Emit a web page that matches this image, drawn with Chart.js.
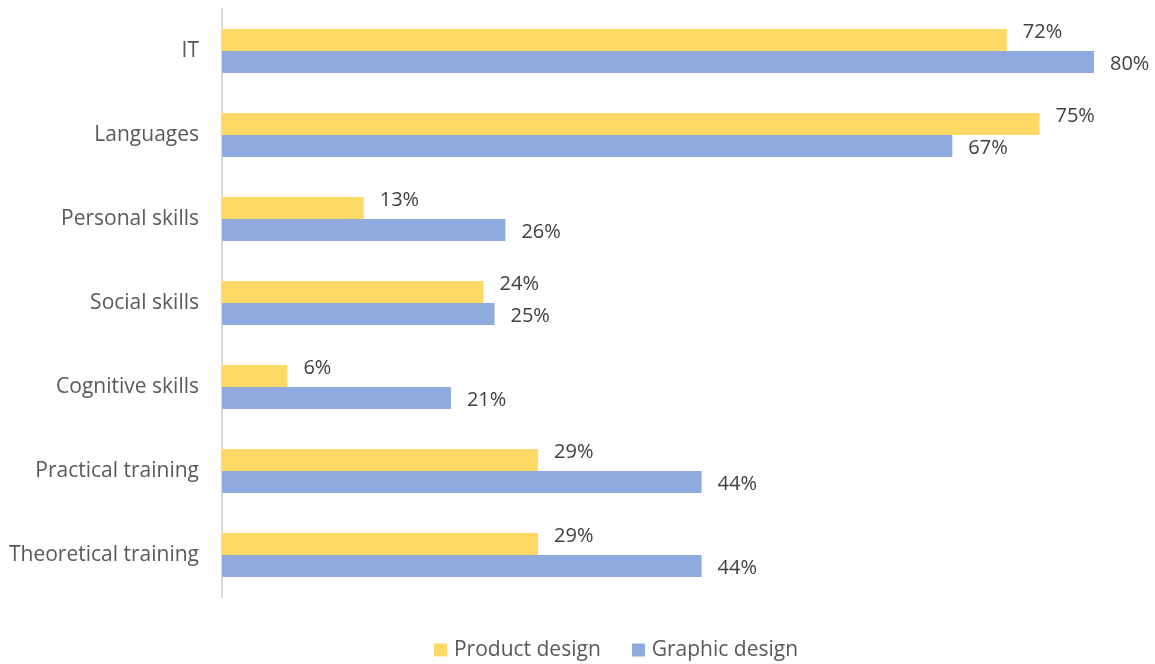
<!DOCTYPE html>
<html>
<head>
<meta charset="utf-8">
<script src="https://cdn.jsdelivr.net/npm/chart.js@4/dist/chart.umd.min.js"></script>
<style>
  html, body { margin: 0; padding: 0; background: #ffffff; }
  #wrap { width: 1155px; height: 664px; position: relative; }
</style>
</head>
<body>
<div id="wrap"><canvas id="c" width="1155" height="664"></canvas></div>
<script>
const categories = ["IT", "Languages", "Personal skills", "Social skills", "Cognitive skills", "Practical training", "Theoretical training"];
const productDesign = [72, 75, 13, 24, 6, 29, 29];
const graphicDesign = [80, 67, 26, 25, 21, 44, 44];
const seriesNames = ["Product design", "Graphic design"];
const seriesColors = ["#FFD966", "#8FAADC"];

const FONT = "'Open Sans', 'Noto Sans', sans-serif";

const valueLabels = {
  id: 'valueLabels',
  afterDatasetsDraw(chart) {
    const ctx = chart.ctx;
    ctx.save();
    ctx.font = "20px " + FONT;
    ctx.fillStyle = "#404040";
    ctx.textAlign = "left";
    ctx.textBaseline = "middle";
    chart.data.datasets.forEach((ds, di) => {
      const meta = chart.getDatasetMeta(di);
      const dy = di === 0 ? -8 : 2;
      meta.data.forEach((bar, i) => {
        ctx.fillText(ds.data[i] + "%", bar.x + 16, bar.y + dy);
      });
    });
    ctx.restore();
  }
};

// Legend drawn below the plot, Excel-style (box, small gap, label)
const bottomLegend = {
  id: 'bottomLegend',
  afterDraw(chart) {
    const ctx = chart.ctx;
    ctx.save();
    ctx.font = "21px " + FONT;
    ctx.textBaseline = "middle";
    ctx.textAlign = "left";
    const box = 13, gap = 7, itemGap = 31;
    const items = chart.data.datasets.map(ds => ({ text: ds.label, color: ds.backgroundColor, w: ctx.measureText(ds.label).width }));
    let total = 0;
    items.forEach((it, i) => { total += box + gap + it.w + (i < items.length - 1 ? itemGap : 0); });
    const centerX = 616, cy = 650;
    let x = centerX - total / 2;
    items.forEach(it => {
      ctx.fillStyle = it.color;
      ctx.fillRect(Math.round(x), cy - 6.5, box, box);
      x += box + gap;
      ctx.fillStyle = "#595959";
      ctx.fillText(it.text, x, cy);
      x += it.w + itemGap;
    });
    ctx.restore();
  }
};

new Chart(document.getElementById('c'), {
  type: 'bar',
  data: {
    labels: categories,
    datasets: [
      { label: seriesNames[0], data: productDesign, backgroundColor: seriesColors[0], categoryPercentage: 0.524, barPercentage: 1.0 },
      { label: seriesNames[1], data: graphicDesign, backgroundColor: seriesColors[1], categoryPercentage: 0.524, barPercentage: 1.0 }
    ]
  },
  options: {
    indexAxis: 'y',
    responsive: false,
    animation: false,
    layout: { padding: { top: 9, right: 61, left: 0, bottom: 67 } },
    scales: {
      x: { display: false, min: 0, max: 80 },
      y: {
        grid: { display: false, drawTicks: false },
        border: { display: true, color: "#D9D9D9", width: 2 },
        ticks: { color: "#595959", font: { family: FONT, size: 21 }, padding: 23 },
        afterFit(scale) { scale.width = 222; scale.paddingTop = 0; scale.paddingBottom = 0; }
      }
    },
    plugins: {
      legend: { display: false },
      tooltip: { enabled: false }
    }
  },
  plugins: [valueLabels, bottomLegend]
});
</script>
</body>
</html>
